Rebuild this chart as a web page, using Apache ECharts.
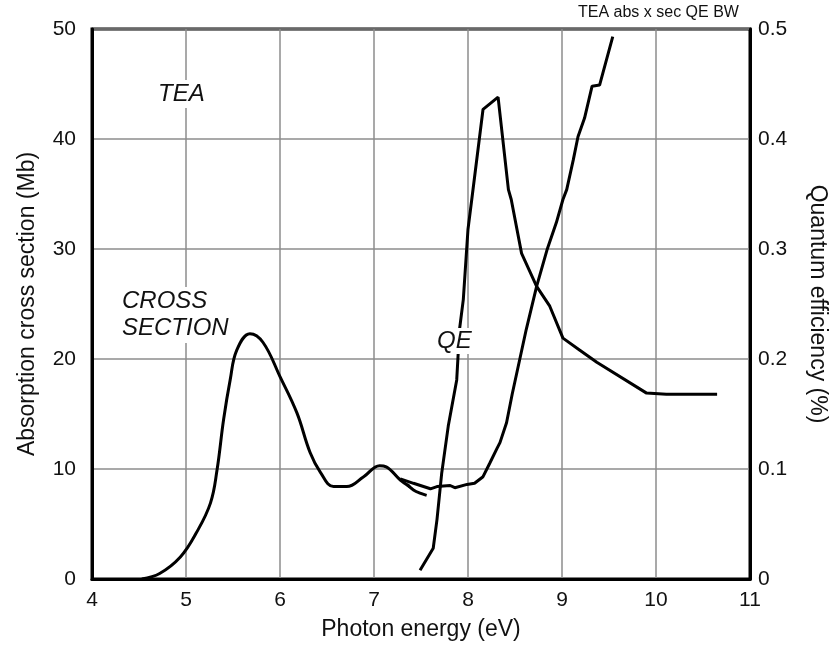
<!DOCTYPE html>
<html>
<head>
<meta charset="utf-8">
<script src="https://cdn.jsdelivr.net/npm/echarts@6/dist/echarts.min.js"></script>
<style>
html,body{margin:0;padding:0;background:#fff;}
#chart{width:833px;height:655px;}
</style>
</head>
<body>
<div id="chart"></div>
<script>
// Cross section, smooth low-energy part (eV, Mb)
var csEnergy = [4.53,4.72,4.94,5.11,5.26,5.33,5.40,5.47,5.54,5.68,5.82,6.00,6.18,6.32,6.43,6.57,6.71,6.89,7.06,7.13,7.28,7.38];
var csValues = [0,0.5,2.0,4.2,6.9,9.9,14.5,18.1,20.8,22.3,21.5,18.4,15.1,11.5,9.7,8.4,8.4,9.3,10.3,10.2,9.0,8.4];
// Short tail of the smooth cross-section curve
var tailEnergy = [7.35,7.42,7.49,7.56];
var tailValues = [8.6,8.1,7.8,7.6];
// Cross section, jagged high-energy part (eV, Mb)
var hiEnergy = [7.28,7.42,7.60,7.67,7.81,7.86,7.99,8.07,8.16,8.23,8.31,8.34,8.41,8.47,8.62,8.73,8.84,8.94,9.01,9.05,9.12,9.17,9.24,9.32,9.40,9.54];
var hiValues = [9.1,8.7,8.2,8.4,8.5,8.3,8.6,8.7,9.3,10.5,11.9,12.4,14.2,16.8,22.7,26.6,29.9,32.4,34.5,35.4,38.1,40.2,41.9,44.8,44.9,49.3];
// Quantum efficiency (eV, %)
var qeEnergy = [7.49,7.63,7.67,7.72,7.79,7.88,7.91,7.95,8.00,8.04,8.16,8.32,8.43,8.46,8.57,8.73,8.87,9.01,9.19,9.37,9.90,10.11,10.65];
var qeValues = [0.008,0.028,0.054,0.096,0.139,0.181,0.227,0.254,0.318,0.345,0.427,0.438,0.354,0.345,0.296,0.266,0.248,0.219,0.208,0.197,0.169,0.168,0.168];
// Axis ticks
var xMin = 4, xMax = 11, xStep = 1;
var yLeftMax = 50, yLeftStep = 10;
var yRightMax = 0.5, yRightStep = 0.1;

function zip(a, b){ return a.map(function(v,i){ return [v, b[i]]; }); }

var FONT = "'Liberation Sans', Arial, sans-serif";
var chart = echarts.init(document.getElementById('chart'), null, {renderer:'canvas'});
var lineStyle = {color:'#000', width:3};
chart.setOption({
  animation:false,
  backgroundColor:'#fff',
  grid:{left:92,right:83,top:29,bottom:76,containLabel:false,outerBoundsMode:'none',
        show:true,borderColor:'#000',borderWidth:3,backgroundColor:'transparent'},
  xAxis:{
    type:'value',min:xMin,max:xMax,interval:xStep,
    name:'Photon energy (eV)',nameLocation:'middle',nameGap:39,
    nameTextStyle:{fontFamily:FONT,fontSize:23,color:'#111'},
    axisLine:{show:true,lineStyle:{color:'#000',width:3}},
    axisTick:{show:false},
    axisLabel:{fontFamily:FONT,fontSize:21,color:'#111',margin:11},
    splitLine:{show:true,lineStyle:{color:'#8c8c8c',width:1.5}}
  },
  yAxis:[{
    type:'value',min:0,max:yLeftMax,interval:yLeftStep,position:'left',
    name:'Absorption cross section (Mb)',nameLocation:'middle',nameGap:53,
    nameTextStyle:{fontFamily:FONT,fontSize:23,color:'#111'},
    axisLine:{show:true,lineStyle:{color:'#000',width:3}},
    axisTick:{show:false},
    axisLabel:{fontFamily:FONT,fontSize:21,color:'#111',margin:16},
    splitLine:{show:true,lineStyle:{color:'#8c8c8c',width:1.5}}
  },{
    type:'value',min:0,max:yRightMax,interval:yRightStep,position:'right',
    name:'Quantum efficiency (%)',nameLocation:'middle',nameGap:56,nameRotate:-90,
    nameTextStyle:{fontFamily:FONT,fontSize:23,color:'#111'},
    axisLine:{show:true,lineStyle:{color:'#000',width:3}},
    axisTick:{show:false},
    axisLabel:{fontFamily:FONT,fontSize:21,color:'#111',margin:8,
      formatter:function(v){ return v===0 ? '0' : v.toFixed(1); }},
    splitLine:{show:false}
  }],
  series:[
    {type:'line',name:'cross section',data:zip(csEnergy,csValues),smooth:0.4,showSymbol:false,lineStyle:lineStyle,z:3},
    {type:'line',name:'cross section tail',data:zip(tailEnergy,tailValues),smooth:0.4,showSymbol:false,lineStyle:lineStyle,z:3},
    {type:'line',name:'cross section high',data:zip(hiEnergy,hiValues),showSymbol:false,lineStyle:lineStyle,z:3},
    {type:'line',name:'QE',yAxisIndex:1,data:zip(qeEnergy,qeValues),showSymbol:false,lineStyle:lineStyle,z:3}
  ],
  graphic:[
    {type:'text',left:578,top:5,style:{text:'TEA abs x sec QE BW',font:'16px '+FONT,fill:'#111'}},
    {type:'text',left:156,top:80,z:10,style:{text:'TEA',font:'italic 24px '+FONT,fill:'#111',backgroundColor:'#fff',padding:[2,2]}},
    {type:'text',left:120,top:287,z:10,style:{text:'CROSS\nSECTION',font:'italic 24px '+FONT,lineHeight:27,fill:'#111',backgroundColor:'#fff',padding:[1,2]}},
    {type:'text',left:435,top:328,z:10,style:{text:'QE',font:'italic 24px '+FONT,fill:'#111',backgroundColor:'#fff',padding:[1,2]}}
  ]
});
</script>
</body>
</html>
